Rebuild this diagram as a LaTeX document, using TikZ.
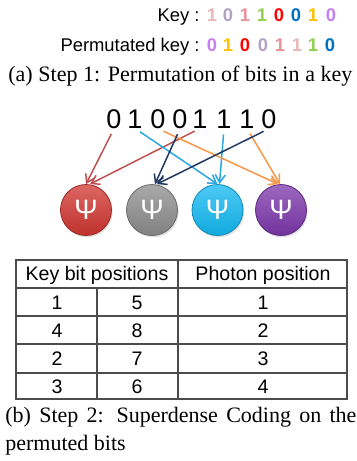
\documentclass[tikz,border=0pt]{standalone}
\usepackage{fontspec}
\setmainfont{Liberation Serif}
\newfontfamily\arialf{Liberation Sans}
\usetikzlibrary{arrows.meta,shadows}
\definecolor{dLP}{HTML}{E6B9B8}
\definecolor{dLav}{HTML}{B3A2C7}
\definecolor{dPink}{HTML}{E8919B}
\definecolor{dGreen}{HTML}{92D050}
\definecolor{dRed}{HTML}{FF0000}
\definecolor{dBlue}{HTML}{0070C0}
\definecolor{dYel}{HTML}{FFC000}
\definecolor{dVio}{HTML}{C580F0}
\definecolor{aRed}{HTML}{C0504D}
\definecolor{aNavy}{HTML}{1F3864}
\definecolor{aCyan}{HTML}{2AA7E0}
\definecolor{aOrange}{HTML}{F79646}
\definecolor{bRed}{HTML}{D0352F}
\definecolor{bGray}{HTML}{8C8C8C}
\definecolor{bCyan}{HTML}{12B8F2}
\definecolor{bPurple}{HTML}{7C36AA}
\begin{document}
\begin{tikzpicture}[x=0.5pt,y=-0.5pt,
  lab/.style={anchor=base east, inner sep=0, font=\arialf\fontsize{9.2}{11}\selectfont},
  kd/.style={anchor=base, inner sep=0, font=\arialf\bfseries\fontsize{9.2}{11}\selectfont, text=#1},
  bit/.style={anchor=base, inner sep=0, font=\arialf\fontsize{13.5}{16}\selectfont},
  arr/.style={draw=#1, line width=0.75pt, -{Straight Barb[length=4pt,width=5pt]}, shorten <=3pt},
  ball/.style={circle, minimum size=25.5pt, inner sep=0, draw=#1!75!black, line width=0.4pt,
    top color=#1!75!white, bottom color=#1!92!black, text=white,
    drop shadow={opacity=0.25, shadow xshift=0.6pt, shadow yshift=-0.9pt},
    font=\arialf\fontsize{14}{15}\selectfont},
  tbl/.style={draw=black!70, line width=0.65pt},
  cell/.style={anchor=base, inner sep=0, font=\arialf\fontsize{9.8}{12}\selectfont},
  captxt/.style={anchor=base west, inner sep=0, font=\fontsize{11}{13}\selectfont}]
\useasboundingbox (0,0) rectangle (357,461);

% key lines
\node[lab] (klab) at (200,21.5) {Key :};
\node[kd=dLP]   (k1) at (212,21.5) {1};
\node[kd=dLav]  (k2) at (228,21.5) {0};
\node[kd=dPink] (k3) at (245,21.5) {1};
\node[kd=dGreen](k4) at (262,21.5) {1};
\node[kd=dRed]  (k5) at (279,21.5) {0};
\node[kd=dBlue] (k6) at (296,21.5) {0};
\node[kd=dYel]  (k7) at (313,21.5) {1};
\node[kd=dVio]  (k8) at (331,21.5) {0};

\node[lab] (plab) at (200,51.5) {Permutated key :};
\node[kd=dVio]  (p1) at (212,51.5) {0};
\node[kd=dYel]  (p2) at (228,51.5) {1};
\node[kd=dRed]  (p3) at (245,51.5) {0};
\node[kd=dLav]  (p4) at (263,51.5) {0};
\node[kd=dPink] (p5) at (280,51.5) {1};
\node[kd=dLP]   (p6) at (297,51.5) {1};
\node[kd=dGreen](p7) at (313,51.5) {1};
\node[kd=dBlue] (p8) at (330,51.5) {0};

\node[captxt] (capa) at (8,81) {\makebox[172pt][s]{(a) Step 1: Permutation of bits in a key}};

% permuted bits
\node[bit] (b1) at (114,128) {0};
\node[bit] (b2) at (135,128) {1};
\node[bit] (b3) at (158,128) {0};
\node[bit] (b4) at (180,128) {0};
\node[bit] (b5) at (200,128) {1};
\node[bit] (b6) at (224,128) {1};
\node[bit] (b7) at (247,128) {1};
\node[bit] (b8) at (269,128) {0};

% photons
\node[ball=bRed]    (c1) at (86,210)  {Ψ};
\node[ball=bGray]   (c2) at (152,210) {Ψ};
\node[ball=bCyan]   (c3) at (217.5,210) {Ψ};
\node[ball=bPurple] (c4) at (281,210) {Ψ};

% arrows
\draw[arr=aRed]    (b1.south) -- (c1.north);
\draw[arr=aRed]    (b5.south) -- ([xshift=2pt]c1.north);
\draw[arr=aCyan]   (b2.south) -- (c3.north);
\draw[arr=aCyan]   (b6.south) -- ([xshift=1pt]c3.north);
\draw[arr=aOrange] (b3.south) -- ([xshift=-1.5pt]c4.north);
\draw[arr=aOrange] (b7.south) -- ([xshift=-0.5pt]c4.north);
\draw[arr=aNavy]   (b4.south) -- ([xshift=1.5pt]c2.north);
\draw[arr=aNavy]   (b8.south) -- ([xshift=2.5pt]c2.north);

% table
\draw[tbl] (16,260) rectangle (347,399);
\draw[tbl] (16,288) -- (347,288);
\draw[tbl] (16,316) -- (347,316);
\draw[tbl] (16,344) -- (347,344);
\draw[tbl] (16,373) -- (347,373);
\draw[tbl] (178,260) -- (178,399);
\draw[tbl] (97,288) -- (97,399);

\node[cell] (h1) at (97,280.5) {Key bit positions};
\node[cell] (h2) at (263,280.5) {Photon position};
\node[cell] (r11) at (57,309) {1};
\node[cell] (r12) at (137,309) {5};
\node[cell] (r13) at (263,309) {1};
\node[cell] (r21) at (57,337) {4};
\node[cell] (r22) at (137,337) {8};
\node[cell] (r23) at (263,337) {2};
\node[cell] (r31) at (57,365.5) {2};
\node[cell] (r32) at (137,365.5) {7};
\node[cell] (r33) at (263,365.5) {3};
\node[cell] (r41) at (57,393) {3};
\node[cell] (r42) at (137,393) {6};
\node[cell] (r43) at (263,393) {4};

\node[captxt] (capb1) at (5,422) {\makebox[175.5pt][s]{(b) Step 2: Superdense Coding on the}};
\node[captxt] (capb2) at (5,450) {permuted bits};
\end{tikzpicture}
\end{document}
